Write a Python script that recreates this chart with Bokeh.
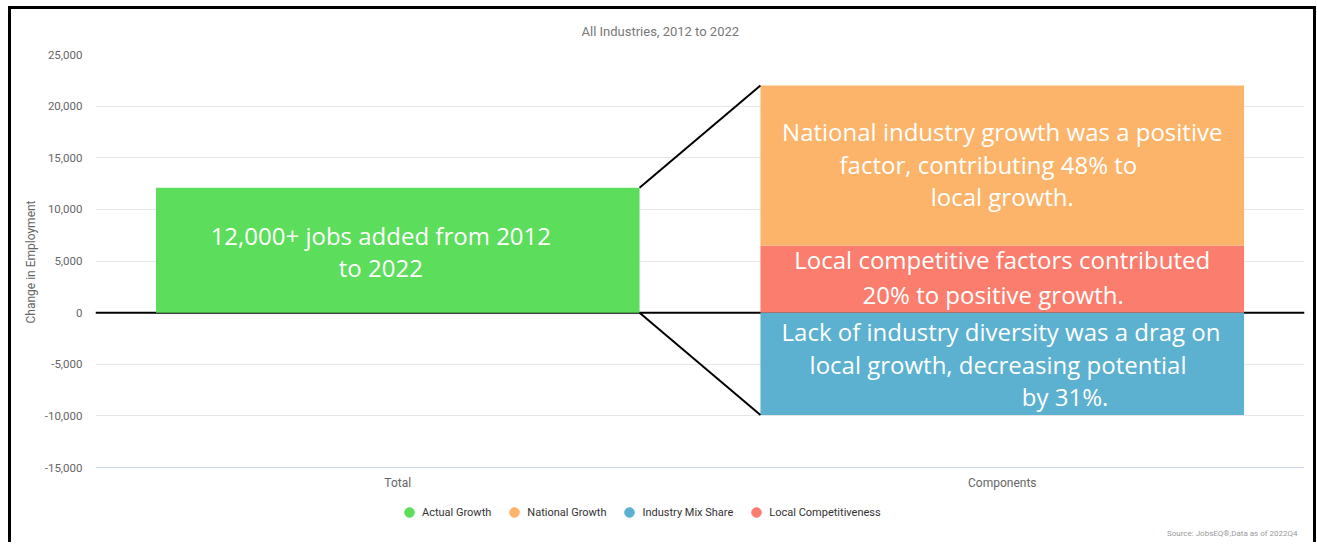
from bokeh.plotting import figure
from bokeh.models import (Range1d, FixedTicker, NumeralTickFormatter, Span, Title, Label,
                          Legend, LegendItem, ColumnDataSource)
from bokeh.core.properties import value
from bokeh.embed import file_html
from bokeh.resources import INLINE

# ---------------- data ----------------
chart_title = "All Industries, 2012 to 2022"
source_note = "Source: JobsEQ\u00ae,Data as of 2022Q4"
y_axis_title = "Change in Employment"
categories = ["Total", "Components"]
series_names = ["Actual Growth", "National Growth", "Industry Mix Share", "Local Competitiveness"]
series_colors = ["#5cdd5c", "#fcb46a", "#5bb1cf", "#fb7d6e"]
actual_growth = 12100
national_growth = 15500
industry_mix_share = -9900
local_competitiveness = 6500
y_ticks = [-15000, -10000, -5000, 0, 5000, 10000, 15000, 20000, 25000]

notes_total = ["12,000+ jobs added from 2012", "to 2022"]
notes_national = ["National industry growth was a positive", "factor, contributing 48% to", "local growth."]
notes_local = ["Local competitive factors contributed", "20% to positive growth."]
notes_mix = ["Lack of industry diversity was a drag on", "local growth, decreasing potential", "by 31%."]

# ---------------- figure ----------------
BAR_W = 0.8
Y_MIN, Y_MAX = y_ticks[0], y_ticks[-1]
# the plot frame also holds the legend / source strip below the x axis line
p = figure(width=1308, height=536, output_backend="svg", toolbar_location=None,
           x_range=Range1d(-0.5, len(categories) - 0.5), y_range=Range1d(-22250, Y_MAX),
           min_border_left=84, min_border_right=15, min_border_top=45, min_border_bottom=3)
p.styles = {"border-left": "3px solid #000", "border-top": "3px solid #000",
            "border-right": "3px solid #000", "margin-left": "8px", "margin-top": "6px"}
p.outline_line_color = None
p.background_fill_color = "white"
p.border_fill_color = "white"

# title (above)
p.add_layout(Title(text=chart_title, align="left", offset=486, vertical_align="top", standoff=27,
                   text_font="Roboto", text_font_size="13px", text_font_style="normal",
                   text_color="#777777"), "above")

# grid / axes
p.xgrid.grid_line_color = None
p.ygrid.grid_line_color = "#e6e6e6"
p.ygrid.ticker = FixedTicker(ticks=y_ticks)

p.yaxis.ticker = FixedTicker(ticks=y_ticks)
p.yaxis.formatter = NumeralTickFormatter(format="0,0")
p.yaxis.axis_line_color = None
p.yaxis.major_tick_line_color = None
p.yaxis.major_tick_out = 0
p.yaxis.minor_tick_line_color = None
p.yaxis.minor_tick_out = 0
p.yaxis.major_label_text_color = "#666666"
p.yaxis.major_label_text_font = "Roboto"
p.yaxis.major_label_text_font_size = "11.5px"
p.yaxis.major_label_standoff = 13

# y axis title, placed alongside the -15,000..25,000 span
p.add_layout(Title(text=y_axis_title, align="left", offset=219, vertical_align="middle", standoff=6,
                   text_font="Roboto", text_font_size="12px", text_font_style="normal",
                   text_color="#666666"), "left")

p.xaxis.fixed_location = Y_MIN
p.xaxis.ticker = FixedTicker(ticks=list(range(len(categories))))
p.xaxis.major_label_overrides = {i: c for i, c in enumerate(categories)}
p.xaxis.axis_line_color = "#ccd6eb"
p.xaxis.major_tick_line_color = None
p.xaxis.major_tick_out = 0
p.xaxis.minor_tick_line_color = None
p.xaxis.minor_tick_out = 0
p.xaxis.major_label_text_color = "#666666"
p.xaxis.major_label_text_font = "Roboto"
p.xaxis.major_label_text_font_size = "12px"
p.xaxis.major_label_standoff = 8

# zero line (under bars)
p.add_layout(Span(location=0, dimension="width", line_color="black", line_width=2, level="underlay"))

# bars
xt, xc = 0, 1
p.vbar(x=[xt], top=[actual_growth], bottom=[0], width=BAR_W, color=series_colors[0], line_color=None)
p.vbar(x=[xc], top=[local_competitiveness], bottom=[0], width=BAR_W, color=series_colors[3], line_color=None)
p.vbar(x=[xc], top=[local_competitiveness + national_growth], bottom=[local_competitiveness],
       width=BAR_W, color=series_colors[1], line_color=None)
p.vbar(x=[xc], top=[0], bottom=[industry_mix_share], width=BAR_W, color=series_colors[2], line_color=None)

# connector lines
p.segment(x0=[xt + BAR_W / 2, xt + BAR_W / 2], y0=[actual_growth, 0],
          x1=[xc - BAR_W / 2, xc - BAR_W / 2], y1=[local_competitiveness + national_growth, industry_mix_share],
          line_color="black", line_width=2)

# annotation text (white, on the bars)
def put_lines(lines, xs, baselines):
    src = ColumnDataSource(dict(x=xs, y=baselines, t=lines))
    p.text(x="x", y="y", text="t", source=src, text_color="white", text_font=value("Open Sans"),
           text_font_size="24px", text_align="center", text_baseline="alphabetic")

put_lines(notes_total, [-0.028, -0.028], [7469, 4368])
put_lines(notes_national, [1.0, 0.977, 1.0], [17543, 14345, 11245])
put_lines(notes_local, [1.0, 0.985], [5140, 1748])
put_lines(notes_mix, [0.998, 0.993, 1.104], [-1837, -5035, -8136])

# legend with circle markers (in the strip under the axis line)
items = []
for name, col in zip(series_names, series_colors):
    r = p.scatter(x=[float("nan")], y=[float("nan")], marker="circle", size=10,
                  fill_color=col, line_color=col)
    items.append(LegendItem(label=name, renderers=[r]))
legend = Legend(items=items, orientation="horizontal", location=(301, 18),
                glyph_width=26, glyph_height=24, label_standoff=0, spacing=10,
                padding=0, margin=0, border_line_color=None, background_fill_alpha=0,
                label_text_font="Roboto", label_text_font_size="11px", label_text_color="#333333")
p.add_layout(legend, "center")

# source note
p.add_layout(Label(x=1202, y=9, x_units="screen", y_units="screen", text=source_note,
                   text_align="right", text_baseline="middle", text_font="Roboto",
                   text_font_size="8px", text_color="#999999"))

open("out.html", "w").write(file_html(p, INLINE))
